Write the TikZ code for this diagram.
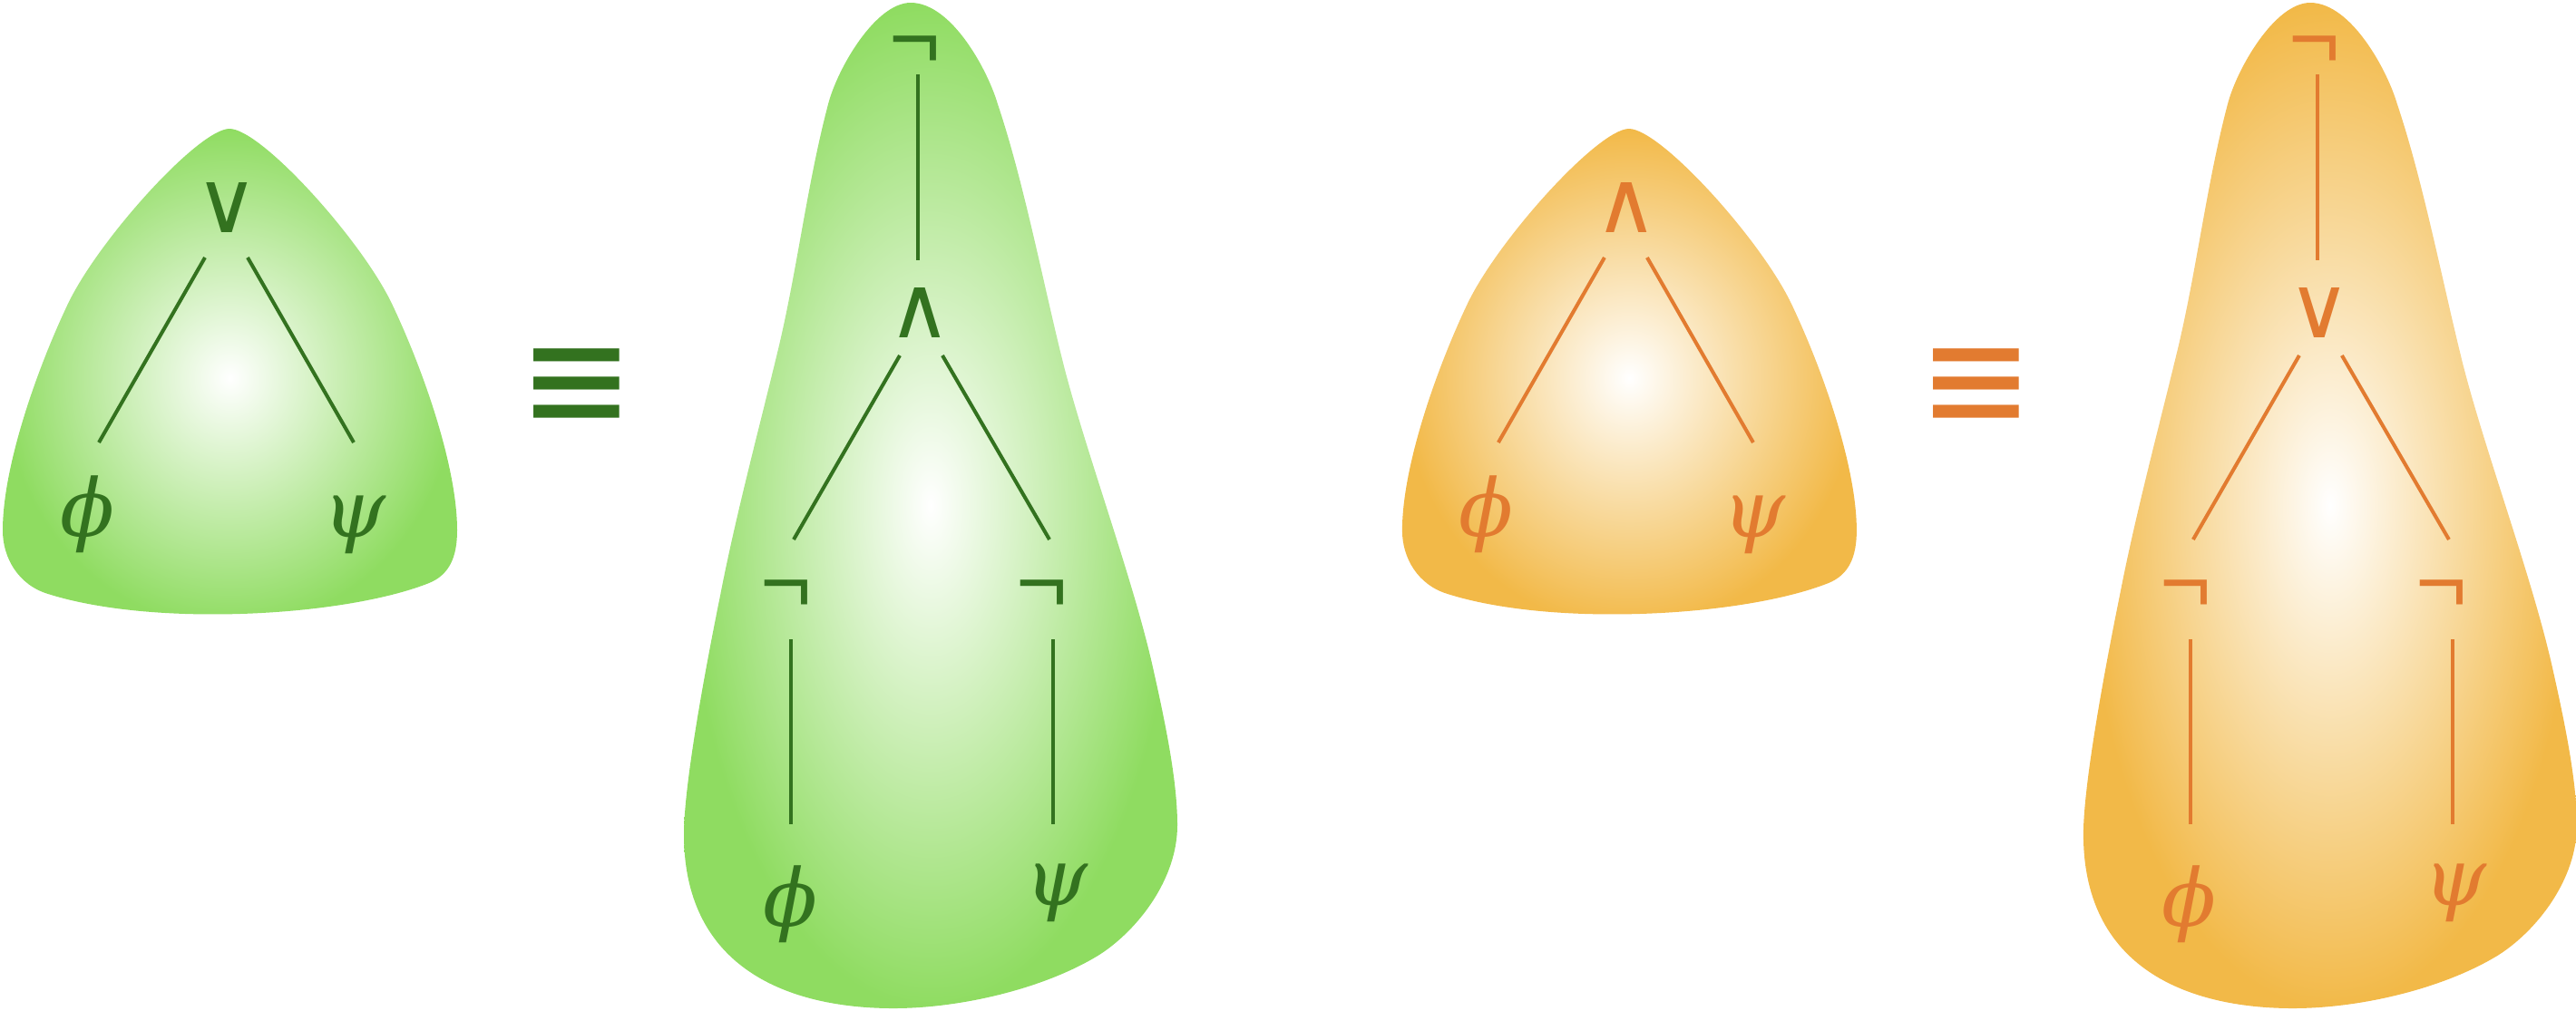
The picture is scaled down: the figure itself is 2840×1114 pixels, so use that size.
\documentclass[tikz,border=0pt]{standalone}
\usepackage{fontspec}
\newfontfamily\djv{DejaVu Sans}
\newfontfamily\gkfont{DejaVu Serif}
\newfontfamily\opfont{DejaVu Sans}
\newfontfamily\negfont{Liberation Sans}
\definecolor{gEdge}{RGB}{143,220,97}
\definecolor{gInk}{RGB}{51,114,31}
\definecolor{oEdge}{RGB}{242,185,72}
\definecolor{oInk}{RGB}{226,123,48}
\tikzset{
  greek/.style={font=\gkfont\itshape\fontsize{25}{30}\selectfont, inner sep=0pt},
  op/.style={font=\opfont\fontsize{27}{32}\selectfont, inner sep=0pt, anchor=south},
  notop/.style={font=\negfont\fontsize{27.6}{33}\selectfont, inner sep=0pt, anchor=north},
  conn/.style={line width=1.14pt},
  eqv/.style={font=\djv\fontsize{43}{50}\selectfont, inner sep=0pt},
}
\begin{document}
\begin{tikzpicture}[x=0.01cm,y=-0.01cm]
\useasboundingbox (0,0) rectangle (2840,1114);
% ---------------- left half (green)
\path[inner color=white, outer color=gEdge] (253,142) .. controls (288,142) and (400,266) .. (433,337) .. controls (467,409) and (504,515) .. (504,585) .. controls (504,615) and (495,634) .. (473,643) .. controls (380,680) and (170,692) .. (53,655) .. controls (20,645) and (3,615) .. (3,585) .. controls (3,515) and (40,409) .. (74,337) .. controls (107,266) and (219,142) .. (253,142) -- cycle;
\path[inner color=white, outer color=gEdge] (1004,3) .. controls (1050,3) and (1090,80) .. (1100,115) .. controls (1129,201) and (1151,317) .. (1173,404) .. controls (1198,501) and (1249,638) .. (1271,736) .. controls (1284,794) and (1298,860) .. (1298,910) .. controls (1298,970) and (1254,1026) .. (1212,1053) .. controls (1152,1090) and (1060,1112) .. (985,1112) .. controls (880,1112) and (754,1075) .. (754,920) .. controls (754,860) and (782,716) .. (794,657) .. controls (811,569) and (837,472) .. (858,385) .. controls (879,297) and (890,202) .. (913,115) .. controls (923,76) and (965,3) .. (1004,3) -- cycle;
\begin{scope}[text=gInk, draw=gInk]
\node[op] (or1) at (250,257) {∨};
\node[greek] (p1) at (96,567) {ϕ};
\node[greek] (q1) at (391,578.5) {ψ};
\draw[conn] ([shift={(-24,27)}]or1.south) -- ([shift={(13,-79)}]p1.center);
\draw[conn] ([shift={(23,27)}]or1.south) -- ([shift={(-1,-90.5)}]q1.center);
\node[eqv] (eq1) at (635.5,431) {\scalebox{1}[1.13]{≡}};
\node[notop] (t2) at (1008.5,39) {¬};
\node[op] (a2) at (1014,373) {∧};
\node[notop] (l2) at (867,639) {¬};
\node[notop] (r2) at (1149,639) {¬};
\node[greek] (p2) at (871,997.5) {ϕ};
\node[greek] (q2) at (1164.5,985) {ψ};
\draw[conn] ([shift={(3.5,43)}]t2.north) -- ([shift={(-2,-86)}]a2.south);
\draw[conn] ([shift={(-22,19)}]a2.south) -- ([shift={(8,-44)}]l2.north);
\draw[conn] ([shift={(25,19)}]a2.south) -- ([shift={(8,-44)}]r2.north);
\draw[conn] ([shift={(5,66)}]l2.north) -- ([shift={(1,-88.5)}]p2.center);
\draw[conn] ([shift={(12,66)}]r2.north) -- ([shift={(-3.5,-76)}]q2.center);
\end{scope}
% ---------------- right half (orange)
\begin{scope}[xshift=15.42cm]
\path[inner color=white, outer color=oEdge] (253,142) .. controls (288,142) and (400,266) .. (433,337) .. controls (467,409) and (504,515) .. (504,585) .. controls (504,615) and (495,634) .. (473,643) .. controls (380,680) and (170,692) .. (53,655) .. controls (20,645) and (3,615) .. (3,585) .. controls (3,515) and (40,409) .. (74,337) .. controls (107,266) and (219,142) .. (253,142) -- cycle;
\path[inner color=white, outer color=oEdge] (1004,3) .. controls (1050,3) and (1090,80) .. (1100,115) .. controls (1129,201) and (1151,317) .. (1173,404) .. controls (1198,501) and (1249,638) .. (1271,736) .. controls (1284,794) and (1298,860) .. (1298,910) .. controls (1298,970) and (1254,1026) .. (1212,1053) .. controls (1152,1090) and (1060,1112) .. (985,1112) .. controls (880,1112) and (754,1075) .. (754,920) .. controls (754,860) and (782,716) .. (794,657) .. controls (811,569) and (837,472) .. (858,385) .. controls (879,297) and (890,202) .. (913,115) .. controls (923,76) and (965,3) .. (1004,3) -- cycle;
\begin{scope}[text=oInk, draw=oInk]
\node[op] (an3) at (250,257) {∧};
\node[greek] (p3) at (96,567) {ϕ};
\node[greek] (q3) at (391,578.5) {ψ};
\draw[conn] ([shift={(-24,27)}]an3.south) -- ([shift={(13,-79)}]p3.center);
\draw[conn] ([shift={(23,27)}]an3.south) -- ([shift={(-1,-90.5)}]q3.center);
\node[eqv] (eq2) at (635.5,431) {\scalebox{1}[1.13]{≡}};
\node[notop] (t4) at (1008.5,39) {¬};
\node[op] (o4) at (1014,373) {∨};
\node[notop] (l4) at (867,639) {¬};
\node[notop] (r4) at (1149,639) {¬};
\node[greek] (p4) at (871,997.5) {ϕ};
\node[greek] (q4) at (1164.5,985) {ψ};
\draw[conn] ([shift={(3.5,43)}]t4.north) -- ([shift={(-2,-86)}]o4.south);
\draw[conn] ([shift={(-22,19)}]o4.south) -- ([shift={(8,-44)}]l4.north);
\draw[conn] ([shift={(25,19)}]o4.south) -- ([shift={(8,-44)}]r4.north);
\draw[conn] ([shift={(5,66)}]l4.north) -- ([shift={(1,-88.5)}]p4.center);
\draw[conn] ([shift={(12,66)}]r4.north) -- ([shift={(-3.5,-76)}]q4.center);
\end{scope}
\end{scope}
\end{tikzpicture}
\end{document}
